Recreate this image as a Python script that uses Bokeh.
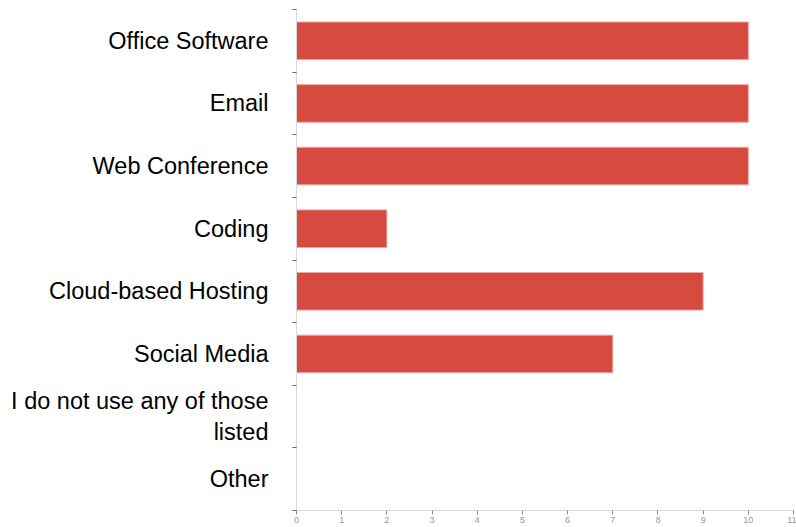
from bokeh.plotting import figure
from bokeh.models import FixedTicker, Range1d, ColumnDataSource
from bokeh.embed import file_html
from bokeh.resources import INLINE

categories = ["Office Software", "Email", "Web Conference", "Coding",
              "Cloud-based Hosting", "Social Media",
              "I do not use any of those\nlisted", "Other"]
values = [10, 10, 10, 2, 9, 7, 0, 0]
x_ticks = list(range(0, 12))

n = len(categories)
centers = [n - i - 0.5 for i in range(n)]
src = ColumnDataSource(dict(y=centers, right=values, cat=categories))

p = figure(width=796, height=527, output_backend="svg", toolbar_location=None,
           x_range=Range1d(0, 11), y_range=Range1d(0, n),
           min_border_left=296, min_border_right=3, min_border_top=9,
           min_border_bottom=17)
p.hbar(y="y", left=0, right="right", height=0.6, source=src,
       fill_color="#d64a3f", line_color="#eea59f", line_width=1)

p.grid.visible = False
p.outline_line_color = None

# y axis
p.yaxis.ticker = FixedTicker(ticks=centers, minor_ticks=list(range(0, n + 1)))
p.yaxis.major_label_overrides = {c: lab for c, lab in zip(centers, categories)}
p.yaxis.major_tick_line_color = None
p.yaxis.major_tick_out = 0
p.yaxis.major_tick_in = 0
p.yaxis.minor_tick_line_color = "#666666"
p.yaxis.minor_tick_out = 4
p.yaxis.minor_tick_in = 0
p.yaxis.axis_line_color = "#d9d9d9"
p.yaxis.major_label_text_font = "Liberation Sans"
p.yaxis.major_label_text_font_size = "23.5px"
p.yaxis.major_label_text_color = "#000000"
p.yaxis.major_label_standoff = 24

# x axis
p.xaxis.ticker = FixedTicker(ticks=x_ticks)
p.xaxis.axis_line_color = "#d9d9d9"
p.xaxis.major_tick_line_color = "#888888"
p.xaxis.major_tick_out = 4
p.xaxis.major_tick_in = 0
p.xaxis.minor_tick_line_color = None
p.xaxis.major_label_text_font = "Liberation Sans"
p.xaxis.major_label_text_font_size = "9px"
p.xaxis.major_label_text_color = "#999999"
p.xaxis.major_label_standoff = 2

open("out.html", "w").write(file_html(p, INLINE))
